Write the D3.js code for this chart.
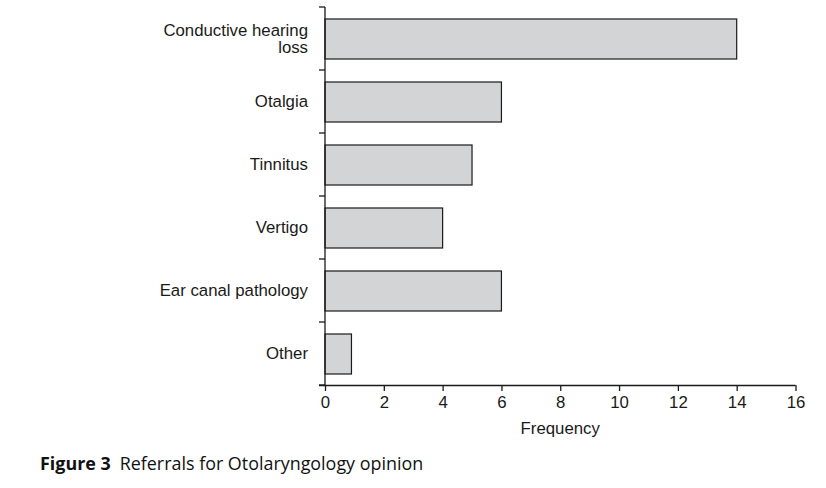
<!DOCTYPE html>
<html><head><meta charset="utf-8">
<script src="https://cdn.jsdelivr.net/npm/d3@7"></script>
<style>body{margin:0;background:#fff}svg{display:block}</style>
</head><body>
<svg id="c" width="826" height="488"></svg>
<script>
const categories = [["Conductive hearing","loss"],["Otalgia"],["Tinnitus"],["Vertigo"],["Ear canal pathology"],["Other"]];
const values = [14, 6, 5, 4, 6, 0.9];
const xTicks = [0,2,4,6,8,10,12,14,16];

(function(){
const svg = d3.select("#c");
const mLeft = 325, mRight = 795.5, mTop = 7, mBottom = 385;
const x = d3.scaleLinear().domain([0,16]).range([mLeft,mRight]);
const keys = categories.map((c,i)=>i);
const y = d3.scaleBand().domain(keys).range([mTop,mBottom]).padding(0);
const barH = y.bandwidth()*0.635;
const font = "'Liberation Sans', Arial, Helvetica, sans-serif";
const fs = 16.8;

svg.append("g").selectAll("rect").data(values).join("rect")
  .attr("x", x(0))
  .attr("y", (d,i)=> y(i) + (y.bandwidth()-barH)/2 + 0.5)
  .attr("width", d=> x(d)-x(0))
  .attr("height", barH)
  .attr("fill", "#d3d4d6")
  .attr("stroke", "#1a1a1a")
  .attr("stroke-width", 1.2);

const yAxisG = svg.append("g");
yAxisG.append("line").attr("x1",mLeft).attr("x2",mLeft).attr("y1",mTop).attr("y2",mBottom).attr("stroke","#1a1a1a").attr("stroke-width",1.3);
const bounds = keys.map(i=>y(i)).concat([mBottom]);
yAxisG.selectAll("line.t").data(bounds).join("line").attr("class","t")
  .attr("x1",mLeft-6).attr("x2",mLeft).attr("y1",d=>d).attr("y2",d=>d)
  .attr("stroke","#1a1a1a").attr("stroke-width",1.3);

const labels = svg.append("g").attr("font-family",font).attr("font-size",fs).attr("fill","#1a1a1a").attr("text-anchor","end");
categories.forEach((lines,i)=>{
  const cy = y(i)+y.bandwidth()/2;
  const lh = 17.5;
  const t = labels.append("text").attr("x", mLeft-17);
  lines.forEach((ln,j)=>{
    t.append("tspan").attr("x", mLeft-17)
      .attr("y", cy + (j-(lines.length-1)/2)*lh).attr("dy","0.35em").text(ln);
  });
});

const xAxis = d3.axisBottom(x).tickValues(xTicks).tickSize(6).tickSizeOuter(0).tickPadding(5);
const xg = svg.append("g").attr("transform",`translate(0,${mBottom})`).call(xAxis);
xg.select(".domain").attr("stroke","#1a1a1a").attr("stroke-width",1.3).attr("d",`M${mLeft-6},0.5H${mRight}`);
xg.selectAll(".tick line").attr("stroke","#1a1a1a").attr("stroke-width",1.3);
xg.selectAll(".tick text").attr("font-family",font).attr("font-size",fs).attr("fill","#1a1a1a");

svg.append("text").attr("x",(mLeft+mRight)/2).attr("y",434).attr("text-anchor","middle")
  .attr("font-family",font).attr("font-size",fs).attr("fill","#1a1a1a").text("Frequency");

const cap = svg.append("text").attr("x",40).attr("y",470).attr("font-family","'Open Sans', 'Noto Sans', sans-serif").attr("font-size",17.9).attr("fill","#111");
cap.append("tspan").attr("font-weight","bold").text("Figure 3");
cap.append("tspan").attr("dx",9).text("Referrals for Otolaryngology opinion");
})();
</script>
</body></html>
